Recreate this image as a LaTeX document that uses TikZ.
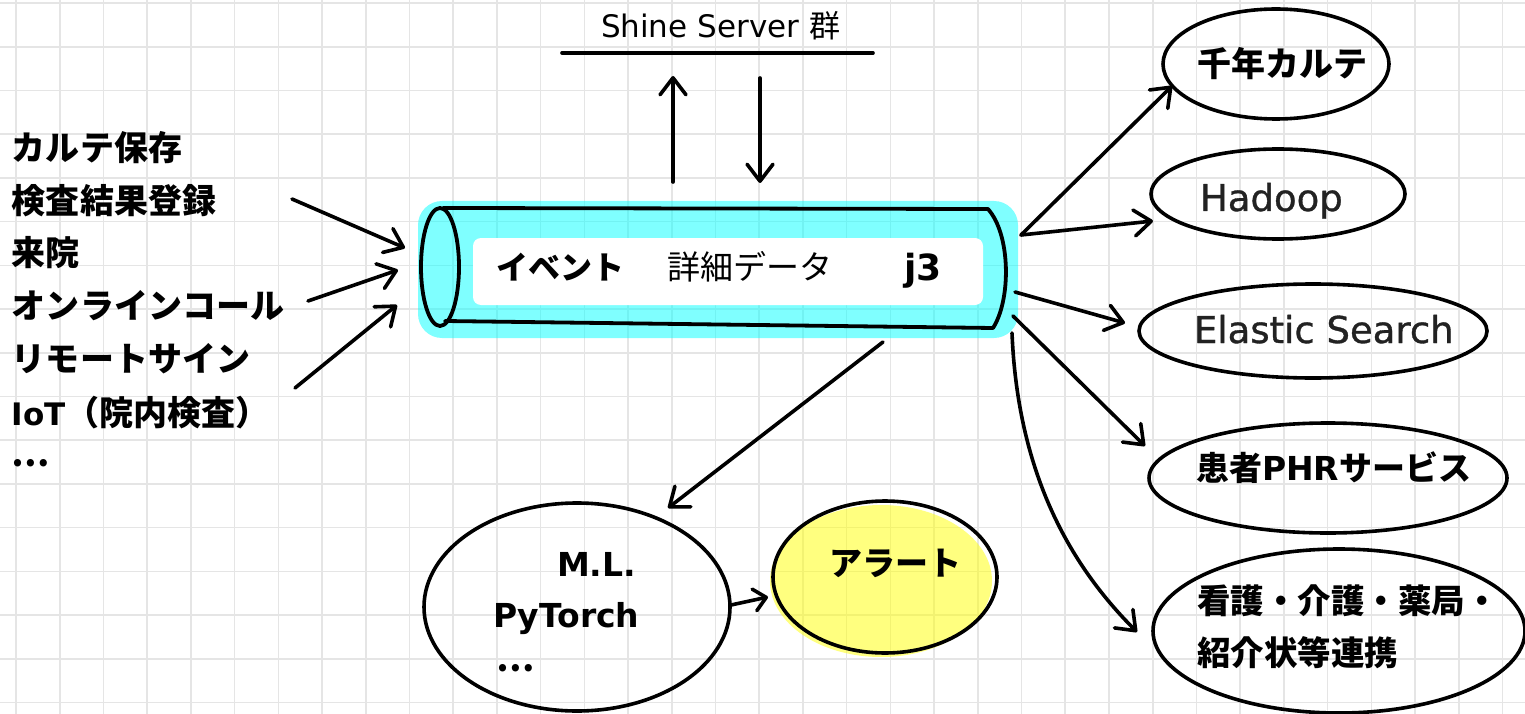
\documentclass[tikz,border=0pt]{standalone}
\usepackage{fontspec}
\usetikzlibrary{arrows.meta,shapes.geometric}
\newfontfamily\JPf{Noto Sans CJK JP}
\newfontfamily\LTf{DejaVu Sans}
\newfontfamily\LTm{DejaVu Sans}[FakeBold=0.9]
\newcommand\SZ[1]{\fontsize{#1}{#1}\selectfont}
\definecolor{gridc}{RGB}{229,229,229}
\definecolor{txtgray}{RGB}{34,34,34}
\definecolor{hlcyan}{RGB}{0,255,255}
\definecolor{hlyellow}{RGB}{255,255,0}
\begin{document}
\begin{tikzpicture}[x=1pt,y=-1pt,line cap=round,line join=round,
  gridline/.style={draw=gridc,line width=1.6pt},
  outline/.style={draw=black,line width=3.8pt},
  arr/.style={draw=black,line width=3.6pt,-{Straight Barb[length=17pt,width=26pt,round]}},
  txt/.style={inner sep=0pt,outer sep=0pt,anchor=base west},
  bubble/.style={ellipse,draw=black,line width=3.6pt,inner sep=0pt},
  jpb/.style={font=\JPf\bfseries\SZ{34}},
  jpr/.style={font=\JPf\SZ{33}}
]
\useasboundingbox (0,0) rectangle (1525,714);
\fill[white] (0,0) rectangle (1525,714);
% grid
\foreach \i in {0,...,34} \draw[gridline] ({16+43.72*\i},0) -- ({16+43.72*\i},714);
\foreach \j in {0,...,16} \draw[gridline] (0,{3+43.72*\j}) -- (1525,{3+43.72*\j});

% Shine Server
\node[txt,font=\SZ{31}] (shine) at (601,38) {\LTf Shine Server \JPf 群};
\draw[line width=3.6pt] (562,53) -- (873,53);

% input list
\node[txt,jpb] (in1) at (12,161) {カルテ保存};
\node[txt,jpb] (in2) at (12,213) {検査結果登録};
\node[txt,jpb] (in3) at (12,265) {来院};
\node[txt,jpb] (in4) at (12,318) {オンラインコール};
\node[txt,jpb] (in5) at (12,371) {リモートサイン};
\node[txt,jpb] (in6) at (12,425) {{\LTf\SZ{31}IoT}（院内検査）};
\node[txt,jpb] (in7) at (12,466) {…};

% pipe highlight
\fill[hlcyan,opacity=0.5,rounded corners=24pt] (418,201) rectangle (1018,338);
\fill[white,rounded corners=8pt] (473,238) rectangle (983,305);
% pipe outline
\draw[outline] (440,267) ellipse [x radius=19,y radius=59];
\draw[outline] (443,208) -- (988,209) .. controls (1011,235) and (1011,300) .. (993,328) -- (445,321);
\node[txt,jpb,font=\JPf\bfseries\SZ{32}] (ev) at (496,279) {イベント};
\node[txt,jpr] (det) at (667,279) {詳細データ};
\node[txt,font=\LTf\bfseries\SZ{36}] (j3) at (904,280) {j3};

% server arrows
\coordinate (ups) at (673,182); \coordinate (upe) at (673,76);
\coordinate (dns) at (760,78); \coordinate (dne) at (760,183);
\draw[arr] (ups) -- (upe);
\draw[arr] (dns) -- (dne);

% input arrows
\coordinate (a1s) at (292,199); \coordinate (a1e) at (405,248);
\coordinate (a2s) at (308,301); \coordinate (a2e) at (398,270);
\coordinate (a3s) at (295,388); \coordinate (a3e) at (397,305);
\draw[arr] (a1s) -- (a1e);
\draw[arr] (a2s) -- (a2e);
\draw[arr] (a3s) -- (a3e);

% right side targets
\node[bubble,minimum width=226pt,minimum height=110pt] (karte) at (1276,64) {};
\node[txt,jpb] (kartet) at (1197,77) {千年カルテ};
\node[bubble,minimum width=254pt,minimum height=90pt] (hadoop) at (1278,194) {};
\node[txt,font=\LTm\SZ{37},text=txtgray] (hadoopt) at (1200,211) {Hadoop};
\node[bubble,minimum width=348pt,minimum height=94pt] (elastic) at (1313,331) {};
\node[txt,font=\LTm\SZ{37},text=txtgray] (elastict) at (1194,343) {Elastic Search};
\node[bubble,minimum width=358pt,minimum height=110pt] (phr) at (1328,478) {};
\node[txt,font=\JPf\bfseries\SZ{33}] (phrt) at (1196,480) {患者{\LTf PHR}サービス};
\node[bubble,minimum width=372pt,minimum height=164pt] (kango) at (1339,631) {};
\node[txt,font=\JPf\bfseries\SZ{33.5}] (kango1) at (1197,613) {看護・介護・薬局・};
\node[txt,font=\JPf\bfseries\SZ{33.5}] (kango2) at (1197,665) {紹介状等連携};

% output arrows
\coordinate (p1) at (1021,235); \coordinate (k1e) at (1172,86);
\coordinate (k2e) at (1153,221);
\coordinate (p3) at (1015,292); \coordinate (k3e) at (1125,323);
\coordinate (p4) at (1013,316); \coordinate (k4e) at (1145,446);
\coordinate (p5) at (1012,333); \coordinate (k5e) at (1137,632);
\draw[arr] (p1) -- (k1e);
\draw[arr] (p1) -- (k2e);
\draw[arr] (p3) -- (k3e);
\draw[arr] (p4) -- (k4e);
\draw[arr] (p5) .. controls (1018,480) and (1075,570) .. (k5e);

% ML
\node[bubble,minimum width=306pt,minimum height=208pt] (ml) at (577,607) {};
\node[txt,font=\LTf\bfseries\SZ{33}] (mlt) at (557,576) {M.L.};
\node[txt,font=\LTf\bfseries\SZ{33}] (pyt) at (493,627) {PyTorch};
\node[txt,jpb] (mldots) at (496,671) {…};
\coordinate (mls) at (883,342); \coordinate (mle) at (668,508);
\draw[arr] (mls) -- (mle);

% alert
\fill[hlyellow,opacity=0.5] (881,581) ellipse [x radius=111,y radius=76];
\node[bubble,minimum width=224pt,minimum height=152pt] (alert) at (885,577) {};
\node[txt,font=\JPf\bfseries\SZ{33}] (alertt) at (829,575) {アラート};
\coordinate (als) at (731,605); \coordinate (ale) at (768,597);
\draw[arr,-{Straight Barb[length=12pt,width=22pt,round]}] (als) -- (ale);
\end{tikzpicture}
\end{document}
